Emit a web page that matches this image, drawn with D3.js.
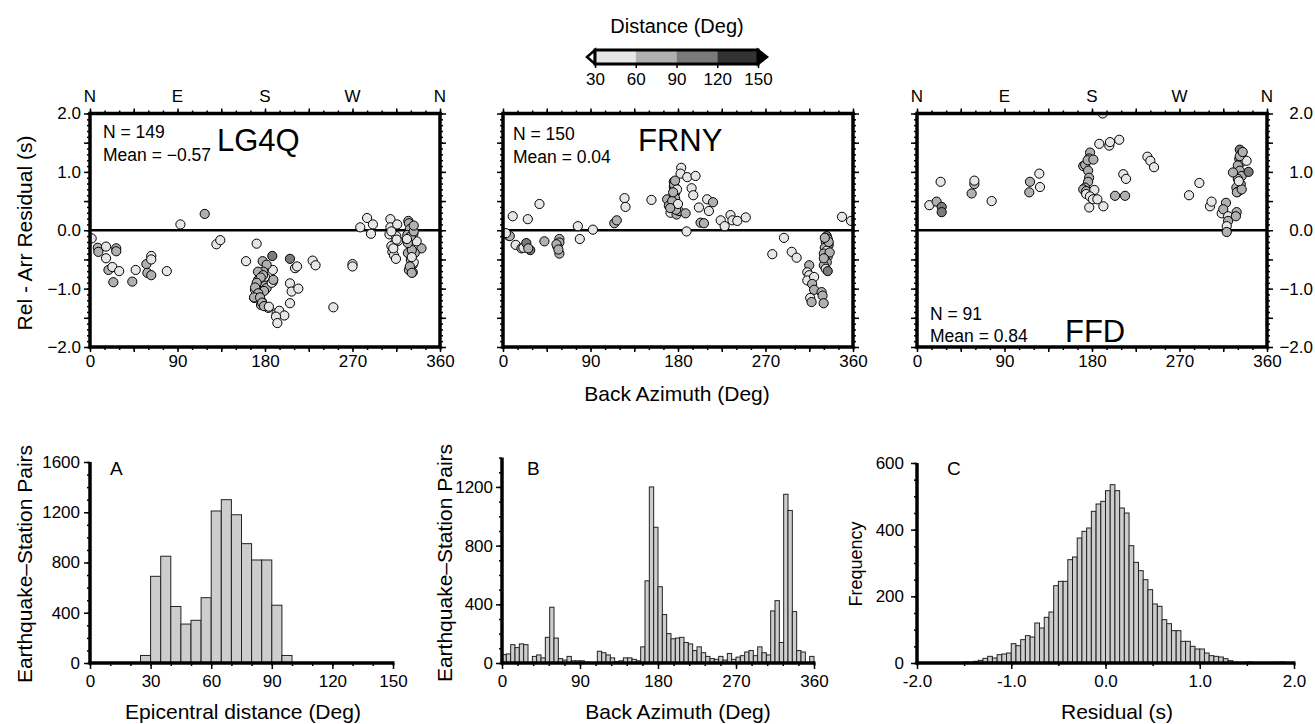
<!DOCTYPE html>
<html>
<head>
<meta charset="utf-8">
<script src="https://cdnjs.cloudflare.com/ajax/libs/d3/7.8.5/d3.min.js"></script>
<style>
  body { margin: 0; background: #fff; }
  text { font-family: "Liberation Sans", Arial, Helvetica, sans-serif; fill: #000; }
</style>
</head>
<body>
<script>

// representative epicentral distances (deg) for the grey classes of the points
var L = 45, M = 75, D = 105;

// station scatter data: [back azimuth (deg), rel - arr residual (s), distance (deg)]
var lg4q = [
  [1.7,-0.14,L],[8,-0.30,M],[8.6,-0.37,M],[16.5,-0.28,L],[16.5,-0.48,L],[27,-0.31,M],[27,-0.36,M],
  [19,-0.68,M],[23,-0.63,L],[30,-0.70,L],[24,-0.89,M],[43.5,-0.88,M],[47,-0.68,L],[58,-0.58,M],
  [59,-0.73,M],[63,-0.77,M],[63,-0.44,L],[63,-0.50,L],[79,-0.70,L],[93,0.10,L],[118,0.28,M],
  [130,-0.24,L],[134,-0.17,L],
  [160.5,-0.53,L],[171.4,-0.23,L],[177.6,-0.53,M],[187.5,-0.44,D],[205.7,-0.49,D],[210.9,-0.65,L],
  [188,-0.68,L],[181.7,-0.59,M],[178.3,-0.71,M],[174.9,-0.76,M],[180,-0.80,L],[173,-0.85,M],
  [171.4,-0.93,M],[176.6,-0.93,M],[180,-0.95,M],[188,-0.88,M],[169.7,-1.02,L],[174.2,-1.05,M],
  [180,-1.02,L],[181.7,-0.99,M],[169,-1.16,M],[173,-1.13,L],[176.6,-1.22,M],[175.9,-1.28,M],
  [183.4,-1.33,L],[172.8,-0.71,M],[178,-0.77,M],[175.6,-0.81,M],[171.5,-0.90,M],[169.8,-0.98,M],
  [179,-1.04,M],[173,-1.08,M],[168.7,-1.15,M],[174.9,-1.15,M],[177,-1.24,M],[179,-1.30,M],
  [186.9,-0.90,L],[188.6,-0.85,M],[184,-1.31,L],
  [205.7,-0.91,L],[207.4,-1.05,L],[214.3,-1.00,L],[205.7,-1.25,L],[192,-1.42,L],[194.7,-1.38,L],
  [199.9,-1.46,L],[191.3,-1.48,L],[192.7,-1.59,L],[213,-0.62,L],
  [229,-0.52,L],[232,-0.60,L],[250.3,-1.32,L],[270,-0.58,L],[270,-0.62,L],
  [278,0.05,L],[285,0.21,L],[291,0.10,L],[289,-0.06,L],
  [309,0.19,L],[309,0.05,L],[316,0.10,L],[308,-0.07,L],[315,-0.10,L],[314,-0.21,L],[310,-0.27,L],
  [311,-0.37,L],[312.7,-0.43,L],[314.7,-0.49,L],[317,-0.18,L],[310,-0.02,L],[312,-0.31,L],[315.4,-0.16,L],
  [327.4,0.16,M],[328,0.12,M],[329,0.02,M],[326.4,-0.08,M],[332.6,-0.06,M],[329,-0.16,M],[332,-0.22,M],
  [334,-0.28,L],[327,-0.39,M],[332,-0.42,M],[330,-0.51,M],[332,-0.59,M],[330,-0.67,M],[332,-0.72,M],
  [328,-0.68,M],[341,-0.31,M],[336,-0.19,L],[334,-0.39,M],[330,-0.10,M],[333,-0.02,M],[331,-0.34,M],
  [333,-0.55,L],[329,-0.62,M],[331,-0.46,L],[327,-0.22,M],[333,0.08,M],[326,-0.15,L],[331,-0.73,M]
];

var frny = [
  [5.5,-0.09,M],[7,-0.10,M],[3,-0.05,L],[10,0.24,L],[13,-0.25,L],[19,-0.31,M],[21,-0.30,L],
  [24,-0.22,D],[28,-0.34,D],[26,-0.31,M],[25.5,0.19,L],[37.5,0.45,L],[42.6,-0.19,M],[58,-0.15,M],
  [58,-0.21,M],[56,-0.28,L],[55,-0.24,M],[58,-0.40,M],[57,-0.33,M],[77,0.07,L],[79,-0.15,L],
  [92.5,0.01,L],[114.5,0.12,M],[117,0.17,M],[125,0.55,L],[126,0.40,L],[152.7,0.52,L],
  [168.8,0.53,M],[170.6,0.42,M],[172.3,0.30,L],[175.7,0.83,M],[175.7,0.74,M],[177.4,0.65,D],
  [175.7,0.59,M],[176.8,0.48,L],[178.5,0.27,M],[180.9,0.33,M],[183.3,1.07,L],[182.6,0.97,L],
  [189.5,0.91,L],[198,0.93,L],[194,0.72,L],[195.7,0.60,L],[187.8,0.29,M],[188.8,-0.02,L],
  [201.5,0.39,L],[203.2,0.13,M],[206.7,0.12,M],[210,0.53,L],[211.8,0.33,L],[216,0.48,M],
  [223.9,0.17,L],[228,0.07,L],[234,0.26,L],[236,0.17,L],[241,0.16,L],[249.7,0.22,L],
  [348.7,0.23,L],[358,0.16,L],
  [176,0.78,M],[177,0.55,M],[176,0.40,M],[178,0.35,M],[174,0.50,M],[179,0.70,L],[175,0.65,M],
  [177,0.85,M],[180,0.45,L],[172,0.38,M],
  [277,-0.41,L],[289,-0.13,L],[297,-0.37,L],[302,-0.47,L],[315,-0.60,M],[313,-0.72,L],[315,-0.77,L],
  [313,-0.86,L],[320,-0.80,L],[318,-0.92,M],[320,-1.02,M],[316,-1.16,L],[317.4,-1.23,M],
  [327.7,-1.06,M],[328.7,-1.12,M],[329.8,-1.25,M],
  [333,-0.10,D],[334,-0.15,M],[332,-0.20,M],[335,-0.25,D],[331,-0.30,M],[333,-0.35,L],[330,-0.40,M],
  [334,-0.45,M],[331,-0.50,M],[333,-0.55,M],[330,-0.60,M],[332,-0.66,L],[334,-0.70,D],[335,-0.20,M],
  [331,-0.13,M],[336,-0.38,M],[330,-0.48,M]
];

var ffd = [
  [12.7,0.43,L],[20.2,0.49,M],[25.4,0.40,D],[25.4,0.31,D],[24.3,0.83,L],[56.2,0.63,M],[59,0.79,M],
  [59,0.85,L],[76.8,0.50,L],[115.5,0.65,M],[116.2,0.83,M],[125.8,0.97,L],[126.5,0.74,L],
  [171,1.10,M],[173,1.12,M],[178,1.33,M],[177,1.23,M],[175.5,1.20,M],[181.4,1.21,M],[176,1.02,M],
  [177,0.90,M],[176,0.83,M],[172.8,0.73,M],[171,0.70,M],[174,0.67,M],[174,0.62,L],[182.4,0.69,L],
  [177.9,0.58,L],[181,0.53,L],[185.5,0.53,L],[177.2,0.39,L],[191.7,0.41,L],[191,2.00,L],
  [187.5,1.48,L],[197.8,1.45,L],[198.5,1.51,L],[208,1.55,L],[203.7,0.59,M],[214,0.59,M],
  [212.2,0.96,L],[215,0.88,L],[237,1.26,L],[240,1.19,L],[243.8,1.08,L],[279.8,0.60,L],[290.4,0.81,L],
  [301.4,0.41,L],[303,0.49,L],
  [313.4,0.29,L],[317.8,0.47,M],[315,0.36,M],[320,0.24,L],[320,0.16,M],[318.6,0.07,L],[318.6,-0.03,M],
  [328.8,0.31,M],[328,0.24,M],
  [332,1.38,D],[334,1.31,M],[331.5,1.22,M],[333,1.16,M],[339,1.19,L],[330,1.11,M],[332,1.02,M],
  [334,0.93,M],[330,0.88,M],[333,0.79,M],[328.5,0.73,M],[330,0.66,M],[341,1.00,D],[325,0.99,M],
  [329,0.65,M],[334,0.70,M],[332,1.27,M],[335,1.34,M],[331,0.84,L]
];

var stationNames = ['LG4Q', 'FRNY', 'FFD'];
var stationN = [149, 150, 91];
var stationMean = ['\u22120.57', '0.04', '0.84'];
var compass = ['N', 'E', 'S', 'W', 'N'];

// histogram A: epicentral distance, 5 deg bins
var distBins = [25, 30, 35, 40, 45, 50, 55, 60, 65, 70, 75, 80, 85, 90, 95];
var distCounts = [60, 690, 850, 450, 310, 340, 520, 1210, 1300, 1180, 950, 820, 820, 460, 60];

// histogram B: back azimuth, 5 deg bins starting at 0
var bazCounts = [57, 62, 125, 105, 130, 125, 0, 45, 55, 35,
                 175, 380, 170, 30, 20, 45, 15, 15, 15, 5,
                 0, 0, 80, 70, 55, 35, 10, 15, 35, 35,
                 25, 15, 110, 560, 1200, 925, 520, 330, 200, 165,
                 170, 175, 140, 130, 85, 110, 70, 45, 30, 25,
                 45, 20, 65, 25, 40, 50, 75, 85, 50, 110,
                 70, 55, 355, 425, 140, 1150, 1040, 350, 85, 75,
                 0, 45];

// histogram C: residual, 0.05 s bins starting at -2.0
var resCounts = [0, 0, 0, 0, 0, 0, 0, 0, 0, 1,
                 3, 2, 5, 8, 14, 20, 15, 25, 27, 30,
                 58, 52, 70, 82, 78, 120, 105, 137, 153, 232,
                 245, 245, 310, 318, 375, 395, 405, 455, 477, 485,
                 517, 535, 517, 465, 450, 352, 302, 277, 250, 220,
                 177, 170, 130, 118, 97, 97, 65, 65, 50, 42,
                 42, 30, 22, 20, 18, 13, 7, 2, 1, 0,
                 3, 0, 0, 0, 0, 0, 0, 3, 0, 0];

// colour scale limits
var cbBounds = [30, 60, 90, 120, 150];
var cbColors = ['#e6e6e6', '#b0b0b0', '#7a7a7a', '#333333'];

var svg = d3.select('body').append('svg').attr('width', 1315).attr('height', 724);

var distColor = d3.scaleThreshold().domain(cbBounds.slice(1, 4)).range(cbColors);

// small helper to place an axis and style it
function placeAxis(g, axis, tx, ty, size) {
  var a = g.append('g').attr('transform', 'translate(' + tx + ',' + ty + ')').call(axis);
  a.select('.domain').remove();
  a.selectAll('line').attr('stroke', '#000').attr('stroke-width', 1.5);
  a.selectAll('text').attr('font-size', size || 17)
    .attr('font-family', '"Liberation Sans", Arial, sans-serif').attr('fill', '#000');
  return a;
}

// ---------- top row: residual vs back azimuth ----------
var panelX = [90, 503, 917];
var pTop = 113.5, pBot = 347;
var annot = [
  { nx: 13, ny: 138, my: 161, tx: 127, ty: 151 },
  { nx: 10, ny: 140, my: 163, tx: 135, ty: 151 },
  { nx: 13, ny: 320, my: 342, tx: 148, ty: 342 }
];

[lg4q, frny, ffd].forEach(function(pts, i) {
  var x0 = panelX[i];
  var x = d3.scaleLinear().domain([0, 360]).range([x0, x0 + 350]);
  var y = d3.scaleLinear().domain([-2, 2]).range([pBot, pTop]);
  var g = svg.append('g');

  g.append('clipPath').attr('id', 'clip' + i).append('rect')
    .attr('x', x0).attr('y', pTop).attr('width', 350).attr('height', pBot - pTop);

  // zero line
  g.append('line')
    .attr('x1', x(0)).attr('x2', x(360)).attr('y1', y(0)).attr('y2', y(0))
    .attr('stroke', '#000').attr('stroke-width', 2.5);

  g.append('g').attr('clip-path', 'url(#clip' + i + ')')
    .selectAll('circle').data(pts).enter().append('circle')
    .attr('cx', function(d) { return x(d[0]); })
    .attr('cy', function(d) { return y(d[1]); })
    .attr('r', 4.6)
    .attr('fill', function(d) { return distColor(d[2]); })
    .attr('stroke', '#000').attr('stroke-width', 1);

  // tick marks on all four sides
  var minorX = d3.range(0, 361, 15), majorX = d3.range(0, 361, 45);
  var minorY = d3.range(-20, 21, 1).map(function(v) { return v / 10; });
  var majorY = d3.range(-4, 5, 1).map(function(v) { return v / 2; });

  placeAxis(g, d3.axisTop(x).tickValues(minorX).tickSize(3).tickFormat(''), 0, pTop);
  placeAxis(g, d3.axisTop(x).tickValues(majorX).tickSize(5).tickFormat(''), 0, pTop);
  placeAxis(g, d3.axisBottom(x).tickValues(minorX).tickSize(3).tickFormat(''), 0, pBot);
  placeAxis(g, d3.axisBottom(x).tickValues(majorX).tickSize(5).tickPadding(3)
    .tickFormat(function(d) { return d % 90 === 0 ? d : ''; }), 0, pBot, 17);

  placeAxis(g, d3.axisLeft(y).tickValues(minorY).tickSize(3).tickFormat(''), x0, 0);
  placeAxis(g, d3.axisLeft(y).tickValues(majorY).tickSize(6)
    .tickFormat(function(d) { return (i === 0 && d % 1 === 0) ? d3.format('.1f')(d) : ''; })
    .tickPadding(3), x0, 0, 17);
  placeAxis(g, d3.axisRight(y).tickValues(minorY).tickSize(3).tickFormat(''), x0 + 350, 0);
  var ra = placeAxis(g, d3.axisRight(y).tickValues(majorY).tickSize(6)
    .tickFormat(function(d) { return (i === 2 && d % 1 === 0) ? d3.format('.1f')(d) : ''; }), x0 + 350, 0, 17);
  ra.selectAll('text').attr('text-anchor', 'end').attr('x', 1313 - (x0 + 350));

  // frame
  g.append('rect')
    .attr('x', x0).attr('y', pTop).attr('width', 350).attr('height', pBot - pTop)
    .attr('fill', 'none').attr('stroke', '#000').attr('stroke-width', 3.5);

  // compass letters for the outer panels
  if (i !== 1) {
    g.selectAll('.cmp').data(compass).enter().append('text')
      .attr('x', function(d, k) { return x(k * 90); })
      .attr('y', 102)
      .attr('text-anchor', 'middle').attr('font-size', 17)
      .text(function(d) { return d; });
  }

  // N, mean and station name
  var a = annot[i];
  g.append('text').attr('x', x0 + a.nx).attr('y', a.ny).attr('font-size', 17.5)
    .text('N = ' + stationN[i]);
  g.append('text').attr('x', x0 + a.nx).attr('y', a.my).attr('font-size', 17.5)
    .text('Mean = ' + stationMean[i]);
  g.append('text').attr('x', x0 + a.tx).attr('y', a.ty).attr('font-size', 31)
    .text(stationNames[i]);
});

svg.append('text').attr('transform', 'translate(32,233) rotate(-90)')
  .attr('text-anchor', 'middle').attr('font-size', 21).text('Rel - Arr Residual (s)');
svg.append('text').attr('x', 677).attr('y', 401)
  .attr('text-anchor', 'middle').attr('font-size', 21).text('Back Azimuth (Deg)');

// ---------- colour bar ----------
var cx = d3.scaleLinear().domain([30, 150]).range([595, 758]);
var cb = svg.append('g');
cb.append('text').attr('x', 677).attr('y', 33).attr('text-anchor', 'middle')
  .attr('font-size', 20).text('Distance (Deg)');
cb.append('polygon')
  .attr('points', [[cx(30), 50], [cx(30) - 8, 57], [cx(30), 64]].join(' '))
  .attr('fill', '#fff').attr('stroke', '#000').attr('stroke-width', 2.5);
cb.append('polygon')
  .attr('points', [[cx(150), 50], [cx(150) + 9, 57], [cx(150), 64]].join(' '))
  .attr('fill', '#000').attr('stroke', '#000').attr('stroke-width', 2.5);
cb.selectAll('.seg').data(cbColors).enter().append('rect')
  .attr('x', function(d, k) { return cx(cbBounds[k]); })
  .attr('width', function(d, k) { return cx(cbBounds[k + 1]) - cx(cbBounds[k]); })
  .attr('y', 51).attr('height', 12)
  .attr('fill', function(d) { return d; });
cb.append('rect').attr('x', cx(30)).attr('y', 50).attr('width', cx(150) - cx(30)).attr('height', 14)
  .attr('fill', 'none').attr('stroke', '#000').attr('stroke-width', 3);
placeAxis(cb, d3.axisBottom(cx).tickValues(cbBounds).tickSize(4).tickPadding(5), 0, 64, 17);

// ---------- bottom row: histograms ----------
var hBase = 663;

function histAxes(g, x, y, xt, xfmt, xminor, yt, yminor, yPad, xPad) {
  var x0 = x.range()[0], x1 = x.range()[1];
  placeAxis(g, d3.axisBottom(x).tickValues(xminor).tickSize(3).tickFormat(''), 0, hBase);
  placeAxis(g, d3.axisBottom(x).tickValues(xt).tickSize(6).tickPadding(xPad).tickFormat(xfmt), 0, hBase, 17);
  placeAxis(g, d3.axisLeft(y).tickValues(yminor).tickSize(3).tickFormat(''), x0, 0);
  placeAxis(g, d3.axisLeft(y).tickValues(yt).tickSize(6).tickPadding(yPad).tickFormat(d3.format('d')), x0, 0, 17);
  g.append('line').attr('x1', x0 - 1.5).attr('x2', x1 + 1.5).attr('y1', hBase).attr('y2', hBase)
    .attr('stroke', '#000').attr('stroke-width', 3.5);
  g.append('line').attr('x1', x0).attr('x2', x0).attr('y1', y.range()[1]).attr('y2', hBase)
    .attr('stroke', '#000').attr('stroke-width', 3.5);
}

function bars(g, data, x, y, w) {
  g.selectAll('.bar').data(data.filter(function(d) { return d[1] > 0; }))
    .enter().append('rect')
    .attr('x', function(d) { return x(d[0]); })
    .attr('width', function(d) { return x(d[0] + w) - x(d[0]); })
    .attr('y', function(d) { return y(d[1]); })
    .attr('height', function(d) { return hBase - y(d[1]); })
    .attr('fill', '#cdcdcd').attr('stroke', '#222').attr('stroke-width', 1);
}

// A
var ax = d3.scaleLinear().domain([0, 150]).range([90, 393]);
var ay = d3.scaleLinear().domain([0, 1600]).range([hBase, 462]);
var gA = svg.append('g');
bars(gA, distBins.map(function(b, k) { return [b, distCounts[k]]; }), ax, ay, 5);
histAxes(gA, ax, ay, d3.range(0, 151, 30), d3.format('d'), d3.range(0, 151, 10),
  d3.range(0, 1601, 400), d3.range(0, 1601, 100), 4, 6);
gA.append('text').attr('x', 110).attr('y', 475).attr('font-size', 19)
  .attr('font-family', '"Open Sans", sans-serif').text('A');
gA.append('text').attr('transform', 'translate(32,564) rotate(-90)')
  .attr('text-anchor', 'middle').attr('font-size', 21).text('Earthquake\u2013Station Pairs');
gA.append('text').attr('x', 243).attr('y', 719).attr('text-anchor', 'middle')
  .attr('font-size', 21).text('Epicentral distance (Deg)');

// B
var bx = d3.scaleLinear().domain([0, 360]).range([502, 814]);
var by = d3.scaleLinear().domain([0, 1400]).range([hBase, 457.6]);
var gB = svg.append('g');
bars(gB, bazCounts.map(function(c, k) { return [k * 5, c]; }), bx, by, 5);
histAxes(gB, bx, by, d3.range(0, 361, 90), d3.format('d'), d3.range(0, 361, 18),
  d3.range(0, 1201, 400), d3.range(0, 1401, 100), 3, 6);
gB.append('text').attr('x', 527).attr('y', 475).attr('font-size', 19)
  .attr('font-family', '"Open Sans", sans-serif').text('B');
gB.append('text').attr('transform', 'translate(452,563) rotate(-90)')
  .attr('text-anchor', 'middle').attr('font-size', 21).text('Earthquake\u2013Station Pairs');
gB.append('text').attr('x', 678).attr('y', 719).attr('text-anchor', 'middle')
  .attr('font-size', 21).text('Back Azimuth (Deg)');

// C
var rx = d3.scaleLinear().domain([-2, 2]).range([917, 1294]);
var ry = d3.scaleLinear().domain([0, 600]).range([hBase, 463]);
var gC = svg.append('g');
bars(gC, resCounts.map(function(c, k) { return [-2 + k * 0.05, c]; }), rx, ry, 0.05);
histAxes(gC, rx, ry, d3.range(-2, 2.01, 1), function(d) { return d.toFixed(1); },
  d3.range(-2, 2.01, 0.5), d3.range(0, 601, 200), d3.range(0, 601, 50), 7, 6);
gC.append('text').attr('x', 947).attr('y', 475).attr('font-size', 19)
  .attr('font-family', '"Open Sans", sans-serif').text('C');
gC.append('text').attr('transform', 'translate(862,564) rotate(-90)')
  .attr('text-anchor', 'middle').attr('font-size', 18).text('Frequency');
gC.append('text').attr('x', 1117).attr('y', 719).attr('text-anchor', 'middle')
  .attr('font-size', 21).text('Residual (s)');

</script>
</body>
</html>
